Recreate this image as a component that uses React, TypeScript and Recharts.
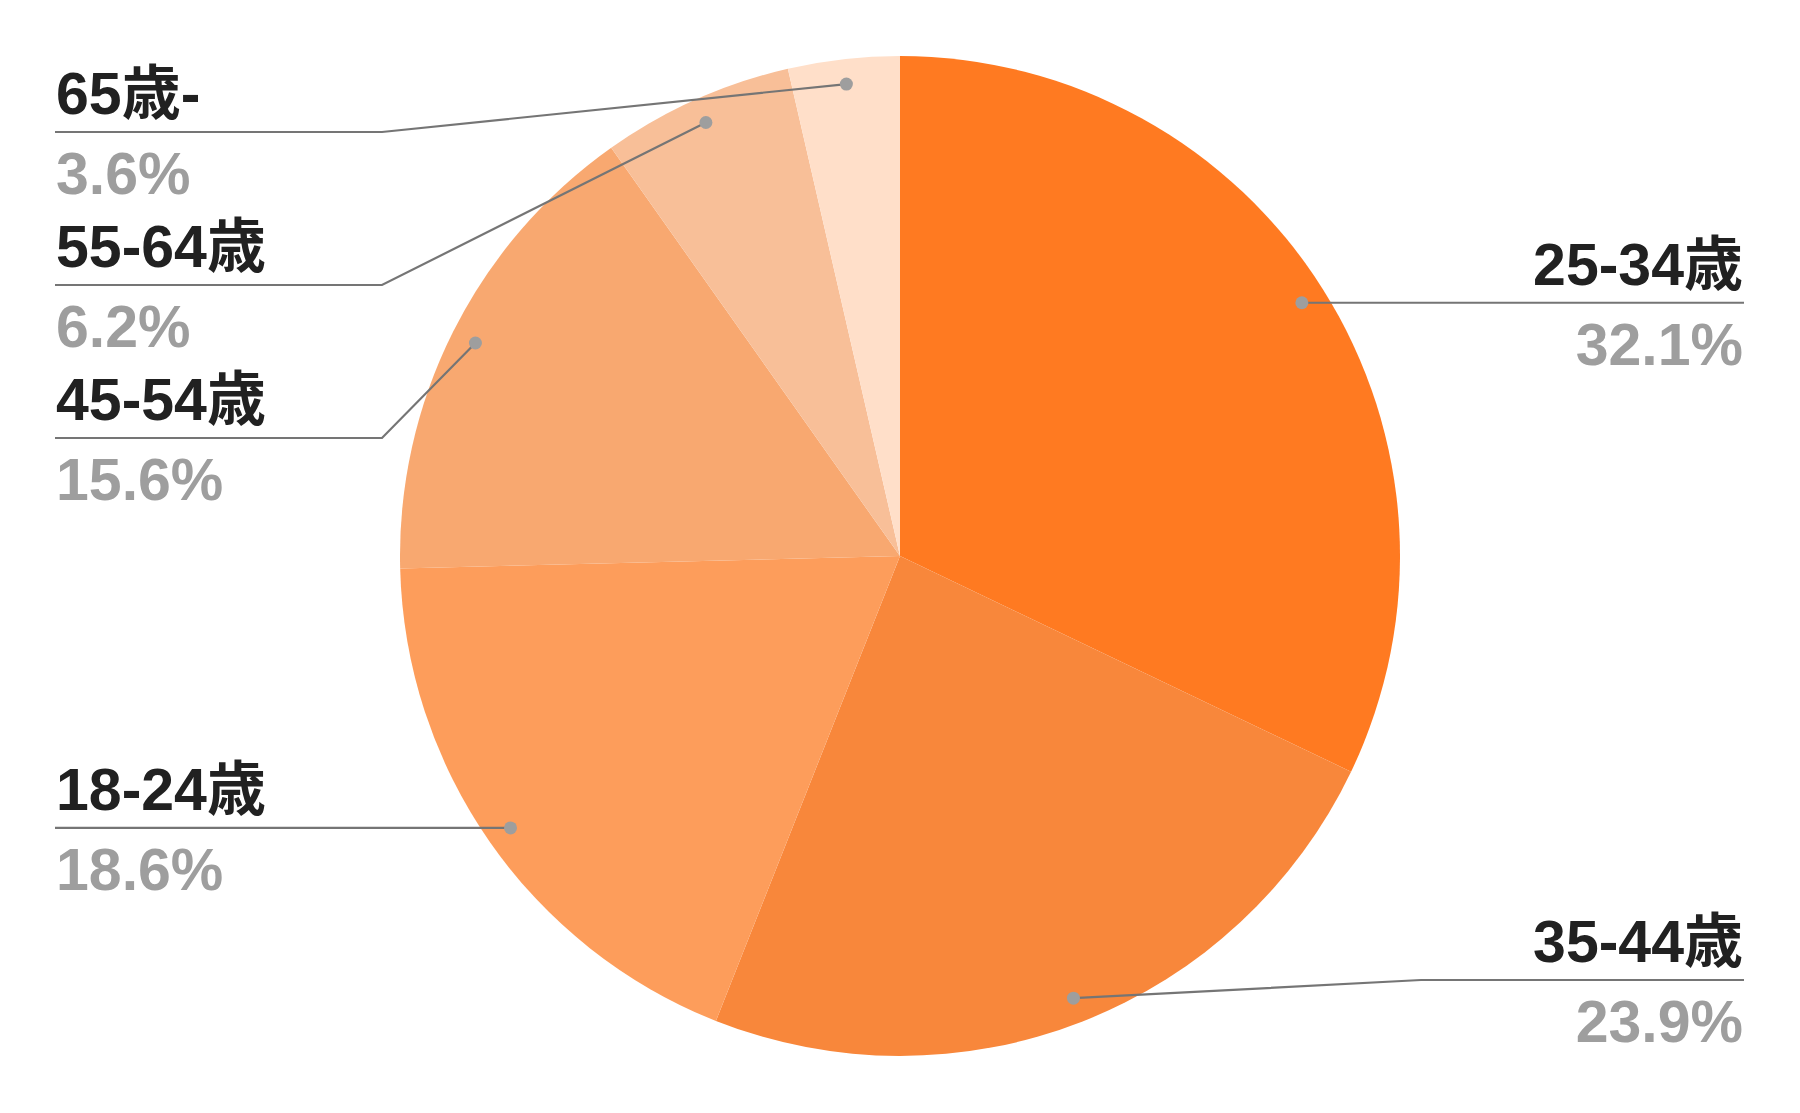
import React from "react";
import { Cell, Pie, PieChart } from "recharts";

const AGE_GROUPS = ["25-34歳", "35-44歳", "18-24歳", "45-54歳", "55-64歳", "65歳-"];
const SHARES = [32.1, 23.9, 18.6, 15.6, 6.2, 3.6];
const SLICE_COLORS = ["#ff7a21", "#f8873b", "#fd9d5b", "#f8a870", "#f8bf98", "#ffdfc9"];

const WIDTH = 1800;
const HEIGHT = 1113;
const CX = 900;
const CY = 556;
const RADIUS = 500;
const DOT_RATIO = 0.95;
const TOP_ROW = 132;
const BOTTOM_ROW = 980;
const ROW_GAP = 153;
const LEFT_X = 55;
const RIGHT_X = 1744;
const LEFT_ELBOW = 382;
const RIGHT_ELBOW = 1421;
const RAD = Math.PI / 180;
const FONT = "'Liberation Sans', Arial, 'Noto Sans CJK JP', sans-serif";

const data = AGE_GROUPS.map((name, i) => ({ name, value: SHARES[i] }));
const total = SHARES.reduce((a, b) => a + b, 0);

// spread the label rows on each side so they don't overlap
function layoutRows() {
  let acc = 0;
  const items = SHARES.map((v, i) => {
    const mid = 90 - ((acc + v / 2) / total) * 360;
    acc += v;
    const x = CX + RADIUS * DOT_RATIO * Math.cos(mid * RAD);
    const y = CY - RADIUS * DOT_RATIO * Math.sin(mid * RAD);
    return { i, left: x < CX, y };
  });
  const rows: number[] = [];
  [true, false].forEach((side) => {
    const group = items.filter((d) => d.left === side).sort((a, b) => a.y - b.y);
    let prev = -Infinity;
    group.forEach((d) => {
      rows[d.i] = Math.max(d.y, TOP_ROW, prev + ROW_GAP);
      prev = rows[d.i];
    });
    let next = Infinity;
    for (let k = group.length - 1; k >= 0; k--) {
      const d = group[k];
      rows[d.i] = Math.min(rows[d.i], BOTTOM_ROW, next - ROW_GAP);
      next = rows[d.i];
    }
  });
  return rows;
}

const ROWS = layoutRows();

function renderLabel(props: any) {
  const { cx, cy, midAngle, outerRadius, index, value } = props;
  const r = outerRadius * DOT_RATIO;
  const x = cx + r * Math.cos(-midAngle * RAD);
  const y = cy + r * Math.sin(-midAngle * RAD);
  const left = x < cx;
  const rowY = ROWS[index];
  const elbow = left ? LEFT_ELBOW : RIGHT_ELBOW;
  const end = left ? LEFT_X : RIGHT_X;
  const textX = left ? end + 1 : end - 1;
  const anchor = left ? "start" : "end";
  return (
    <g key={`label-${index}`}>
      <polyline
        points={`${x},${y} ${elbow},${rowY} ${end},${rowY}`}
        fill="none"
        stroke="#757575"
        strokeWidth={2.2}
      />
      <circle cx={x} cy={y} r={6.5} fill="#9e9e9e" />
      <text
        x={textX}
        y={rowY - 18}
        textAnchor={anchor}
        fontFamily={FONT}
        fontWeight={700}
        fontSize={59}
        fill="#212121"
      >
        {AGE_GROUPS[index]}
      </text>
      <text
        x={textX}
        y={rowY + 62}
        textAnchor={anchor}
        fontFamily={FONT}
        fontWeight={700}
        fontSize={59}
        fill="#9e9e9e"
      >
        {`${((value / total) * 100).toFixed(1)}%`}
      </text>
    </g>
  );
}

export default function App() {
  return (
    <div style={{ width: WIDTH, height: HEIGHT, background: "#fff" }}>
      <style>{"body{margin:0}"}</style>
      <PieChart width={WIDTH} height={HEIGHT} margin={{ top: 0, right: 0, bottom: 0, left: 0 }}>
        <Pie
          data={data}
          dataKey="value"
          nameKey="name"
          cx={CX}
          cy={CY}
          outerRadius={RADIUS}
          startAngle={90}
          endAngle={-270}
          stroke="none"
          labelLine={false}
          label={renderLabel}
          isAnimationActive={false}
        >
          {data.map((entry, i) => (
            <Cell key={entry.name} fill={SLICE_COLORS[i]} />
          ))}
        </Pie>
      </PieChart>
    </div>
  );
}
